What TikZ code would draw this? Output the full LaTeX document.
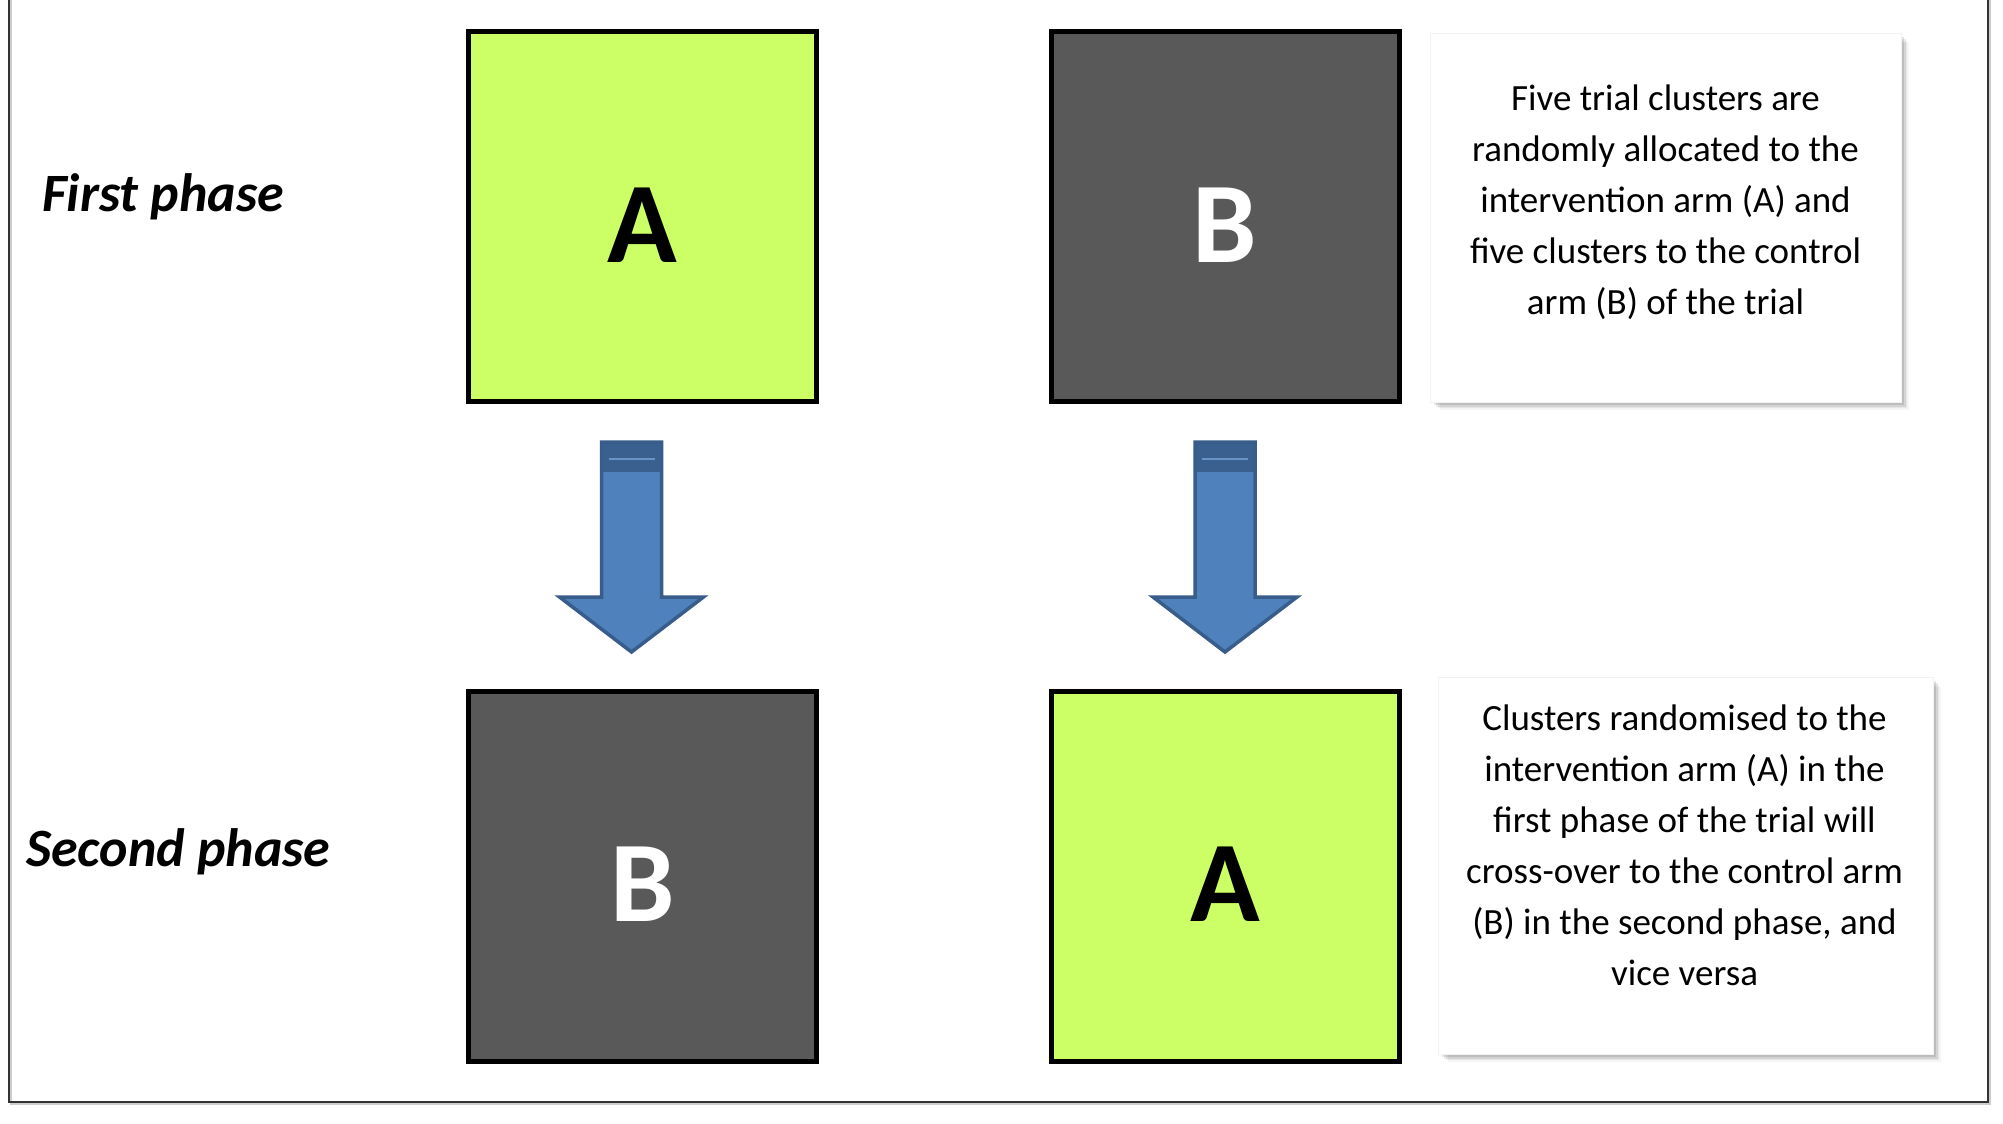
\documentclass[tikz,border=0pt]{standalone}
\usepackage{fontspec}
\setmainfont{Carlito}
\usetikzlibrary{calc}
\definecolor{limeA}{RGB}{204,255,102}
\definecolor{greyB}{RGB}{89,89,89}
\definecolor{arrowfill}{RGB}{79,129,189}
\definecolor{arrowedge}{RGB}{56,93,138}
\definecolor{arrowcap}{RGB}{58,96,143}
\begin{document}
\begin{tikzpicture}[x=1pt,y=-1pt,
  armbox/.style={draw=black, line width=5pt, minimum width=348pt, minimum height=370pt,
    inner sep=0pt, font=\fontsize{115}{115}\selectfont\bfseries, text height=91pt, text depth=0pt},
  armA/.style={armbox, fill=limeA, text=black},
  armB/.style={armbox, fill=greyB, text=white},
  notebox/.style={draw=black!5, line width=0.6pt, fill=white, inner sep=0pt},
  notetext/.style={align=center, font=\fontsize{37}{51}\selectfont, inner sep=0pt},
  phase/.style={anchor=base west, inner sep=0pt, font=\fontsize{54}{58}\selectfont\bfseries\itshape},
  blockarrow/.pic={
    \fill[arrowfill, draw=arrowedge, line width=3.5pt, line join=miter]
      (-30,0) -- (30,0) -- (30,155) -- (72,155) -- (0,210) -- (-72,155) -- (-30,155) -- cycle;
    \fill[arrowcap] (-28.5,1.5) rectangle (28.5,30);
    \draw[arrowfill!85!white, line width=1.6pt] (-23,17) -- (23,17);
  }
]
\useasboundingbox (0,0) rectangle (2003,1124);
\fill[white] (0,0) rectangle (2003,1124);

% outer frame
\draw[black!20, line width=2pt] (11,-2) -- (11,1104) -- (1990,1104) -- (1990,-2);
\draw[black!80, line width=2pt] (9,-2) -- (9,1102) -- (1988,1102) -- (1988,-2);

% phase labels
\node[phase] (p1) at (42,211) {First phase};
\node[phase] (p2) at (26,866) {Second phase};

% arm boxes
\node[armA] (a1) at (642.5,216.5) {A};
\node[armB] (b1) at (1225,216.5) {B};
\node[armB] (b2) at (642.5,876) {B};
\node[armA] (a2) at (1225,876) {A};

% block arrows between phases
\coordinate (arL) at ($(a1.south)+(-11,38)$);
\coordinate (arR) at ($(b1.south)+(0,38)$);
\pic at (arL) {blockarrow};
\pic at (arR) {blockarrow};

% note boxes with soft shadows
\foreach \d/\o in {10/0.04,8/0.06,6/0.08,4/0.10}{
  \fill[black, opacity=\o] (1430+\d,33+\d) rectangle (1901+\d*0.8,402+\d*0.8);
  \fill[black, opacity=\o] (1438+\d,677+\d) rectangle (1933+\d*0.8,1054+\d*0.8);
}
\node[notebox, minimum width=471pt, minimum height=369pt] (n1) at (1665.5,217.5) {};
\node[notebox, minimum width=495pt, minimum height=377pt] (n2) at (1685.5,865.5) {};
\node[notetext] (t1) at ($(n1.center)+(0,-15)$) {Five trial clusters are\\randomly allocated to the\\intervention arm (A) and\\five clusters to the control\\arm (B) of the trial};
\node[notetext] (t2) at ($(n2.center)+(-1,-20)$) {Clusters randomised to the\\intervention arm (A) in the\\first phase of the trial will\\cross-over to the control arm\\(B) in the second phase, and\\vice versa};
\end{tikzpicture}
\end{document}
